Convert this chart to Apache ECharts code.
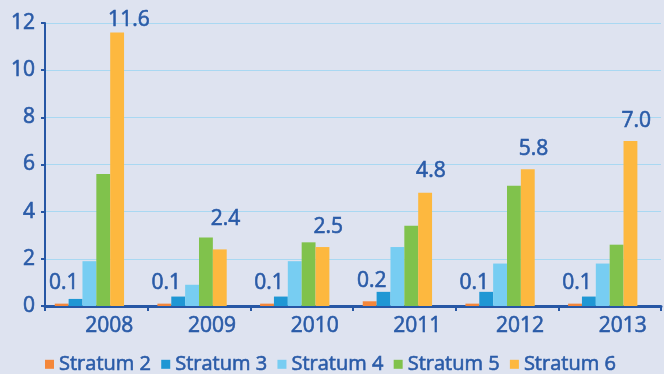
<!DOCTYPE html>
<html>
<head>
<meta charset="utf-8">
<script src="https://cdn.jsdelivr.net/npm/echarts@6/dist/echarts.min.js"></script>
<style>
  html, body { margin: 0; padding: 0; background: #dee3f0; }
  #chart { width: 664px; height: 374px; }
</style>
</head>
<body>
<div id="chart"></div>
<script>
// Years on the category axis
const years = ['2008', '2009', '2010', '2011', '2012', '2013'];

// Values per stratum
const stratum2 = [0.1, 0.1, 0.1, 0.2, 0.1, 0.1];
const stratum3 = [0.3, 0.4, 0.4, 0.6, 0.6, 0.4];
const stratum4 = [1.9, 0.9, 1.9, 2.5, 1.8, 1.8];
const stratum5 = [5.6, 2.9, 2.7, 3.4, 5.1, 2.6];
const stratum6 = [11.6, 2.4, 2.5, 4.8, 5.8, 7.0];

const seriesNames = ['Stratum 2', 'Stratum 3', 'Stratum 4', 'Stratum 5', 'Stratum 6'];
const yTicks = { min: 0, max: 12, step: 2 };

// Label lift (px) above the Stratum 6 bars
const s6LabelLift = [2, 20, 10, 11, 10, 9];

const textBlue = '#2a5ba8';
const axisBlue = '#2757a5';
const colors = ['#f4873a', '#1f97d4', '#77cdf2', '#80c24c', '#fdb83f'];
const font = 'Open Sans';

const chart = echarts.init(document.getElementById('chart'), null, { renderer: 'canvas' });

function barSeries(name, values, color, extra) {
  return Object.assign({
    name: name,
    type: 'bar',
    data: values,
    itemStyle: { color: color },
    barGap: 0,
    barCategoryGap: '19%'
  }, extra || {});
}

// Slightly heavier text: a thin outline in the text colour
const labelText = {
  color: textBlue,
  fontSize: 21,
  fontFamily: font,
  textBorderColor: textBlue,
  textBorderWidth: 0.6
};

const option = {
  backgroundColor: '#dee3f0',
  animation: false,
  textStyle: { fontFamily: font },
  grid: { left: 45, right: 3, top: 23, bottom: 68, containLabel: false },
  legend: {
    data: seriesNames,
    left: 40,
    top: 349,
    icon: 'rect',
    itemWidth: 9,
    itemHeight: 9,
    itemGap: 10,
    textStyle: {
      color: textBlue, fontSize: 20, fontFamily: font,
      textBorderColor: textBlue, textBorderWidth: 0.6
    }
  },
  xAxis: {
    type: 'category',
    data: years,
    axisLine: { lineStyle: { color: axisBlue, width: 3 } },
    axisTick: { show: true, length: 5, lineStyle: { color: axisBlue, width: 2 } },
    axisLabel: Object.assign({ margin: 10, padding: [0, 0, 0, 26] }, labelText)
  },
  yAxis: {
    type: 'value',
    min: yTicks.min,
    max: yTicks.max,
    interval: yTicks.step,
    axisLine: { show: true, lineStyle: { color: axisBlue, width: 2 } },
    axisTick: { show: true, length: 4, lineStyle: { color: axisBlue, width: 2 } },
    splitLine: { lineStyle: { color: '#a9d8f2', width: 1 } },
    axisLabel: Object.assign({ margin: 10 }, labelText)
  },
  series: [
    barSeries(seriesNames[0], stratum2, colors[0], {
      label: Object.assign({
        show: true,
        position: 'top',
        distance: 10,
        offset: [2, 0],
        formatter: p => p.value.toFixed(1)
      }, labelText)
    }),
    barSeries(seriesNames[1], stratum3, colors[1]),
    barSeries(seriesNames[2], stratum4, colors[2]),
    barSeries(seriesNames[3], stratum5, colors[3]),
    barSeries(seriesNames[4], stratum6.map((v, i) => ({
      value: v,
      label: { distance: s6LabelLift[i] }
    })), colors[4], {
      label: Object.assign({
        show: true,
        position: 'top',
        align: 'left',
        offset: [-9, 0],
        formatter: p => p.value.toFixed(1)
      }, labelText)
    }),
    // empty slot that keeps room after the last bar in each year
    barSeries('slot', years.map(() => null), 'transparent', { silent: true })
  ]
};

chart.setOption(option);
</script>
</body>
</html>
